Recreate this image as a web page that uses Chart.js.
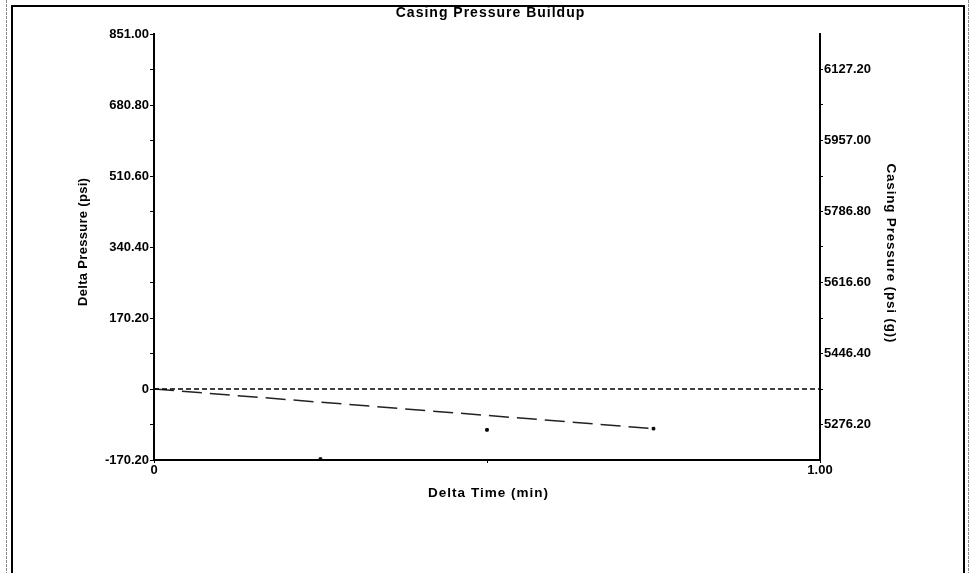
<!DOCTYPE html>
<html>
<head>
<meta charset="utf-8">
<script src="https://cdn.jsdelivr.net/npm/chart.js@4.4.1/dist/chart.umd.min.js"></script>
<style>
  html, body { margin: 0; padding: 0; background: #fff; }
  #wrap { position: relative; width: 971px; height: 573px; }
</style>
</head>
<body>
<div id="wrap"><canvas id="c" width="971" height="573"></canvas></div>
<script>
// ---- data ----
const chartTitle = "Casing Pressure Buildup";
const xTitle = "Delta Time (min)";
const yLeftTitle = "Delta Pressure (psi)";
const yRightTitle = "Casing Pressure (psi (g))";

const xTickValues = [0, 0.5, 1];
const xTickLabels = ["0", "", "1.00"];

const yLeftMajor = [-170.2, 0, 170.2, 340.4, 510.6, 680.8, 851.0];
const yLeftLabels = ["-170.20", "0", "170.20", "340.40", "510.60", "680.80", "851.00"];
const yLeftMin = -170.2, yLeftMax = 851.0;

const yRightMajor = [5276.2, 5446.4, 5616.6, 5786.8, 5957.0, 6127.2];
const yRightLabels = ["5276.20", "5446.40", "5616.60", "5786.80", "5957.00", "6127.20"];
const yRightMin = 5191.1, yRightMax = 6212.3;

const zeroLineX = [0, 1];
const zeroLineY = [0, 0];

const trendX = [0, 0.75];
const trendY = [0, -95];

const obsX = [0.25, 0.5, 0.75];
const obsY = [-168, -98, -95];

// ---- build ----
function withMinor(major) {
  const out = [];
  for (let i = 0; i < major.length; i++) {
    out.push(major[i]);
    if (i < major.length - 1) out.push((major[i] + major[i + 1]) / 2);
  }
  return out;
}
function labelFor(majors, labels, v) {
  for (let i = 0; i < majors.length; i++) if (Math.abs(majors[i] - v) < 1e-6) return labels[i];
  return "";
}
const FONT = "'Liberation Sans', Arial, sans-serif";

function drawText(ctx, text, x, y, size, spacing, rot) {
  ctx.save();
  ctx.translate(x, y);
  if (rot) ctx.rotate(rot);
  ctx.font = "bold " + size + "px " + FONT;
  ctx.letterSpacing = spacing + "px";
  ctx.textAlign = 'center';
  ctx.textBaseline = 'middle';
  ctx.fillText(text, spacing / 2, 0);
  ctx.restore();
}

const framePlugin = {
  id: 'frame',
  beforeDraw(chart) {
    const ctx = chart.ctx;
    ctx.save();
    ctx.fillStyle = '#fff';
    ctx.fillRect(0, 0, chart.width, chart.height);
    ctx.strokeStyle = '#888';
    ctx.lineWidth = 1;
    ctx.setLineDash([3, 1]);
    ctx.beginPath();
    ctx.moveTo(6.5, 0); ctx.lineTo(6.5, 573);
    ctx.moveTo(968.5, 0); ctx.lineTo(968.5, 573);
    ctx.stroke();
    ctx.setLineDash([]);
    ctx.strokeStyle = '#000';
    ctx.lineWidth = 2;
    ctx.beginPath();
    ctx.moveTo(12, 580); ctx.lineTo(12, 6); ctx.lineTo(964, 6); ctx.lineTo(964, 580);
    ctx.stroke();
    ctx.restore();
  },
  afterDraw(chart) {
    const ctx = chart.ctx;
    ctx.fillStyle = '#000';
    drawText(ctx, chartTitle, 490, 13, 14, 1, 0);
    drawText(ctx, xTitle, 488, 493, 13.5, 1, 0);
    drawText(ctx, yLeftTitle, 83, 242, 13, 0.3, -Math.PI / 2);
    drawText(ctx, yRightTitle, 891, 253, 13.5, 0.8, Math.PI / 2);
  }
};

const tickFont = { family: FONT, size: 13, weight: 'bold' };

new Chart(document.getElementById('c'), {
  type: 'scatter',
  data: {
    datasets: [
      {
        label: 'zero',
        type: 'line',
        data: zeroLineX.map((x, i) => ({ x, y: zeroLineY[i] })),
        borderColor: '#000',
        borderWidth: 1.6,
        borderDash: [5, 3],
        pointRadius: 0,
        yAxisID: 'y'
      },
      {
        label: 'trend',
        type: 'line',
        data: trendX.map((x, i) => ({ x, y: trendY[i] })),
        borderColor: '#222',
        borderWidth: 1.5,
        borderDash: [20, 8],
        pointRadius: 0,
        yAxisID: 'y'
      },
      {
        label: 'obs',
        data: obsX.map((x, i) => ({ x, y: obsY[i] })),
        backgroundColor: '#000',
        borderColor: '#000',
        pointRadius: 1.8,
        pointStyle: 'rect',
        yAxisID: 'y'
      }
    ]
  },
  options: {
    responsive: false,
    animation: false,
    devicePixelRatio: 1,
    layout: { padding: { top: 34, left: 0, right: 0, bottom: 0 } },
    plugins: { legend: { display: false }, tooltip: { enabled: false }, title: { display: false } },
    scales: {
      x: {
        type: 'linear', min: 0, max: 1,
        afterBuildTicks: s => { s.ticks = xTickValues.map(v => ({ value: v })); },
        afterFit: s => { s.height = 113; },
        ticks: {
          autoSkip: false, maxRotation: 0, color: '#000', font: tickFont, padding: 0,
          callback: v => labelFor(xTickValues, xTickLabels, v)
        },
        grid: { drawOnChartArea: false, drawTicks: true, tickLength: 3, color: '#000' },
        border: { display: true, color: '#000', width: 2 }
      },
      y: {
        type: 'linear', position: 'left', min: yLeftMin, max: yLeftMax,
        afterBuildTicks: s => { s.ticks = withMinor(yLeftMajor).map(v => ({ value: v })); },
        afterFit: s => { s.width = 154; },
        ticks: {
          autoSkip: false, color: '#000', font: tickFont, padding: 1,
          callback: v => labelFor(yLeftMajor, yLeftLabels, v)
        },
        grid: { drawOnChartArea: false, drawTicks: true, tickLength: 4, color: '#000' },
        border: { display: true, color: '#000', width: 2 }
      },
      y2: {
        type: 'linear', position: 'right', min: yRightMin, max: yRightMax,
        afterBuildTicks: s => { s.ticks = withMinor(yRightMajor).map(v => ({ value: v })); },
        afterFit: s => { s.width = 151; },
        ticks: {
          autoSkip: false, color: '#000', font: tickFont, padding: 1,
          callback: v => labelFor(yRightMajor, yRightLabels, v)
        },
        grid: { drawOnChartArea: false, drawTicks: true, tickLength: 3, color: '#000' },
        border: { display: true, color: '#000', width: 2 }
      }
    }
  },
  plugins: [framePlugin]
});
</script>
</body>
</html>
